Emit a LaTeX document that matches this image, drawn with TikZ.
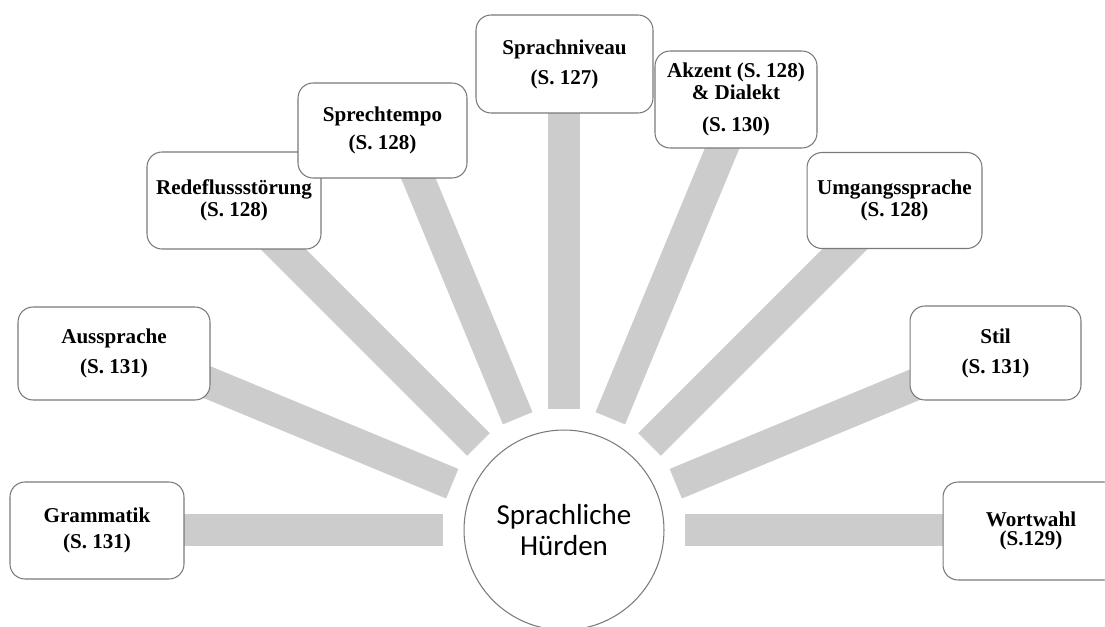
\documentclass[tikz,border=0pt]{standalone}
\usepackage{fontspec}
\setmainfont{Liberation Serif}
\newfontfamily\hubfont{Carlito}
\usetikzlibrary{calc,backgrounds}
\definecolor{spokegray}{RGB}{204,204,204}
\definecolor{framegray}{RGB}{122,122,122}

\begin{document}
\begin{tikzpicture}[x=0.02cm, y=0.02cm,
    topic/.style={draw=framegray, line width=0.6pt, rounded corners=0.3cm, fill=white,
                  align=center, font=\fontsize{12}{14}\selectfont\bfseries, inner sep=2pt},
    hubnode/.style={draw=framegray, line width=0.6pt, circle, fill=white, minimum size=4cm,
                    align=center, font=\hubfont\fontsize{16.5}{18}\selectfont},
    spoke/.style={line width=0.64cm, spokegray}
  ]
  \useasboundingbox (0,0) rectangle (1105,626);

  % hub
  \node[hubnode] (hub) at (564,96) {Sprachliche\\Hürden};

  % topics, left to right
  \node[topic, minimum width=3.48cm, minimum height=1.94cm] (gram) at (97,95.5)
    {Grammatik\\[1pt](S. 131)};
  \node[topic, minimum width=3.84cm, minimum height=1.86cm] (aus) at (114,272.5)
    {Aussprache\\[3pt](S. 131)};
  \node[topic, minimum width=3.48cm, minimum height=1.94cm] (rede) at (234,425.5)
    {Redeflussstörung\\[-1.5pt](S. 128)};
  \node[topic, minimum width=3.38cm, minimum height=1.90cm] (tempo) at (382.5,495.5)
    {Sprechtempo\\[2pt](S. 128)};
  \node[topic, minimum width=3.54cm, minimum height=1.96cm] (niveau) at (564.5,562)
    {Sprachniveau\\[3pt](S. 127)};
  \node[topic, minimum width=3.24cm, minimum height=1.94cm] (akzent) at (736,526.5)
    {Akzent (S. 128)\\[-1.5pt]\& Dialekt\\[4pt](S. 130)};
  \node[topic, minimum width=3.50cm, minimum height=1.92cm] (umgang) at (894.5,425.5)
    {Umgangssprache\\[-1.7pt](S. 128)};
  \node[topic, minimum width=3.42cm, minimum height=1.88cm] (stil) at (995.5,273)
    {Stil\\[3pt](S. 131)};
  \node[topic, minimum width=3.52cm, minimum height=1.96cm] (wort) at (1031,95)
    {Wortwahl\\[-2.7pt](S.129)};

  % spokes behind the topics
  \begin{scope}[on background layer]
    \foreach \a in {0,22.5,...,180}
      \draw[spoke] ($(hub)+(\a:2.42cm)$) -- ($(hub)+(\a:9cm)$);
  \end{scope}
\end{tikzpicture}
\end{document}
